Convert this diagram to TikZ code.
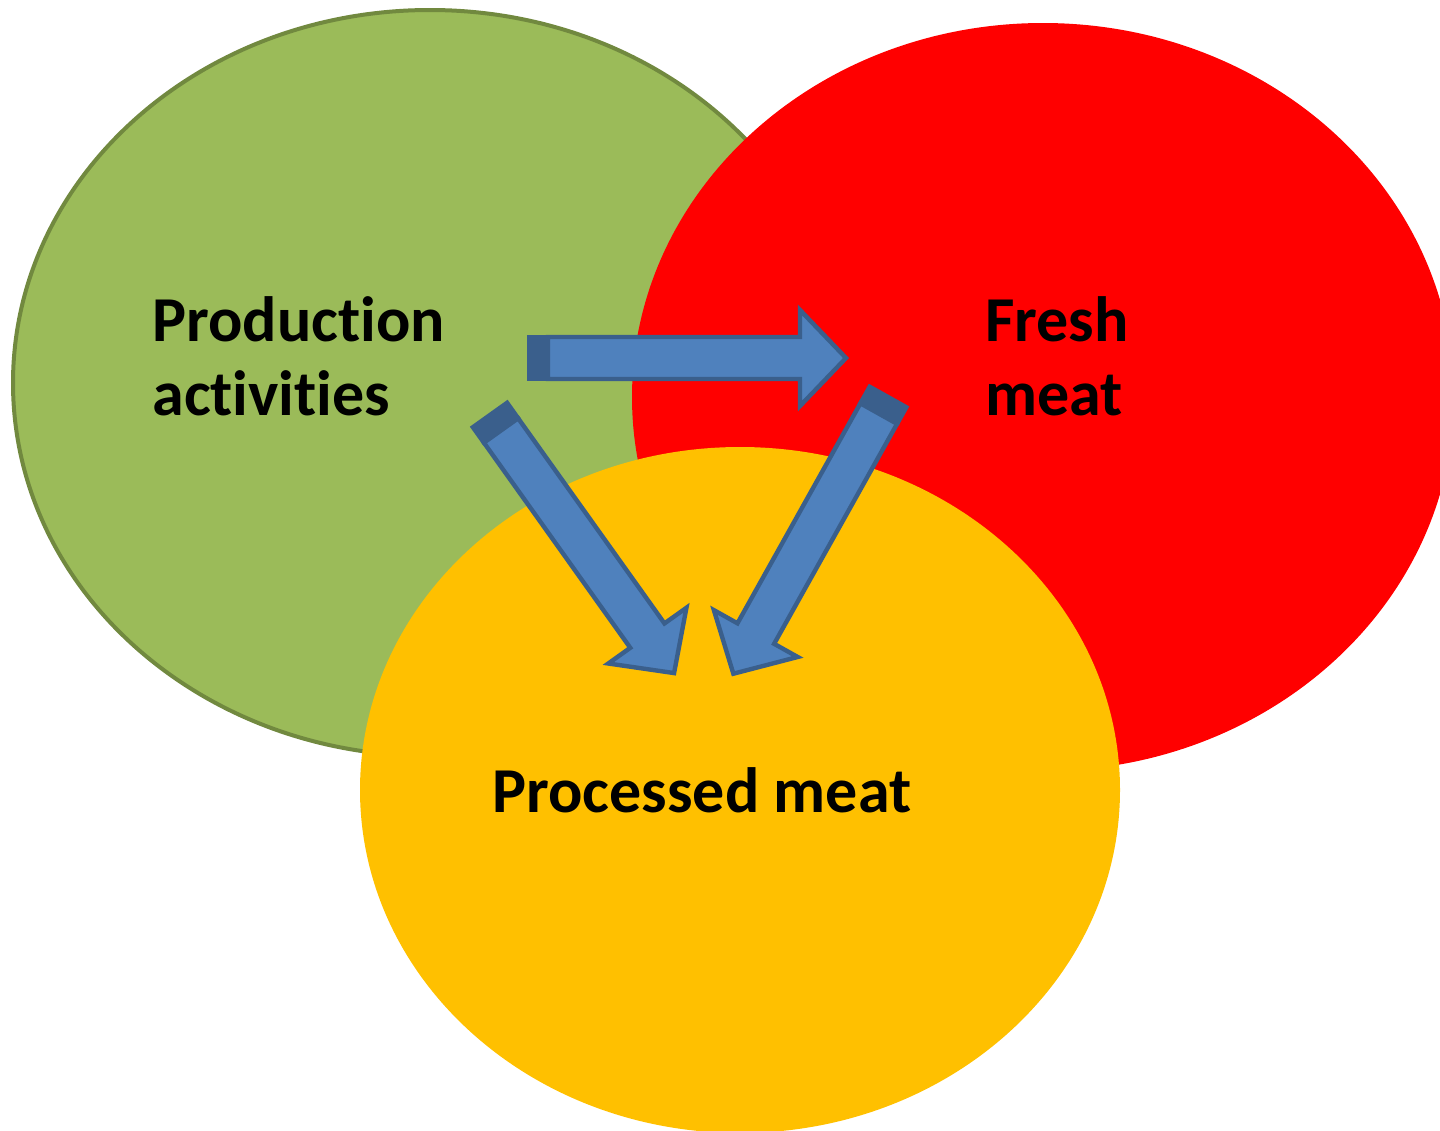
\documentclass[tikz,border=0pt]{standalone}
\usepackage{fontspec}
\setmainfont{Carlito}[Ligatures=NoCommon]

\definecolor{leafgreen}{HTML}{9BBB59}
\definecolor{leafedge}{HTML}{71893F}
\definecolor{freshred}{HTML}{FF0000}
\definecolor{procyellow}{HTML}{FFC000}
\definecolor{arrowblue}{HTML}{4F81BD}
\definecolor{arrowedge}{HTML}{3A5F8C}

\tikzset{
  arrowbody/.style={fill=arrowblue, draw=arrowedge, line width=2.2pt, line join=miter},
  arrowend/.style={fill=arrowedge, draw=arrowedge, line width=2.2pt},
  txt/.style={inner sep=0pt, anchor=base west, font=\fontsize{32}{38.5}\selectfont\bfseries}
}

% block arrow: #1 tail centre, #2 angle
\newcommand{\blockarrow}[2]{%
  \begin{scope}[shift={#1}, rotate=#2]
    \draw[arrowend] (0,-21) rectangle (19,21);
    \draw[arrowbody] (19,-21) -- (271,-21) -- (271,-48) -- (317,0)
                     -- (271,48) -- (271,21) -- (19,21) -- cycle;
  \end{scope}}

\begin{document}
\begin{tikzpicture}[x=0.5pt, y=-0.5pt]
\useasboundingbox (0,0) rectangle (1440,1130);
\clip (0,0) rectangle (1440,1130);

% the three circles
\filldraw[fill=leafgreen, draw=leafedge, line width=2pt] (430,383) ellipse [x radius=417, y radius=373];
\fill[freshred] (1043,397) ellipse [x radius=411, y radius=374];
\fill[procyellow] (740,790) ellipse [x radius=380, y radius=343];

% arrows
\blockarrow{(529,358)}{0}
\blockarrow{(490,415)}{-54.5}
\blockarrow{(888,397)}{-119.2}

% labels
\node[txt] (prod1) at (152,341) {Production};
\node[txt] (prod2) at (152,415) {activities};
\node[txt] (fresh1) at (985,341) {Fresh};
\node[txt] (fresh2) at (985,415) {meat};
\node[txt] (proc) at (492,812) {Processed meat};
\end{tikzpicture}
\end{document}
